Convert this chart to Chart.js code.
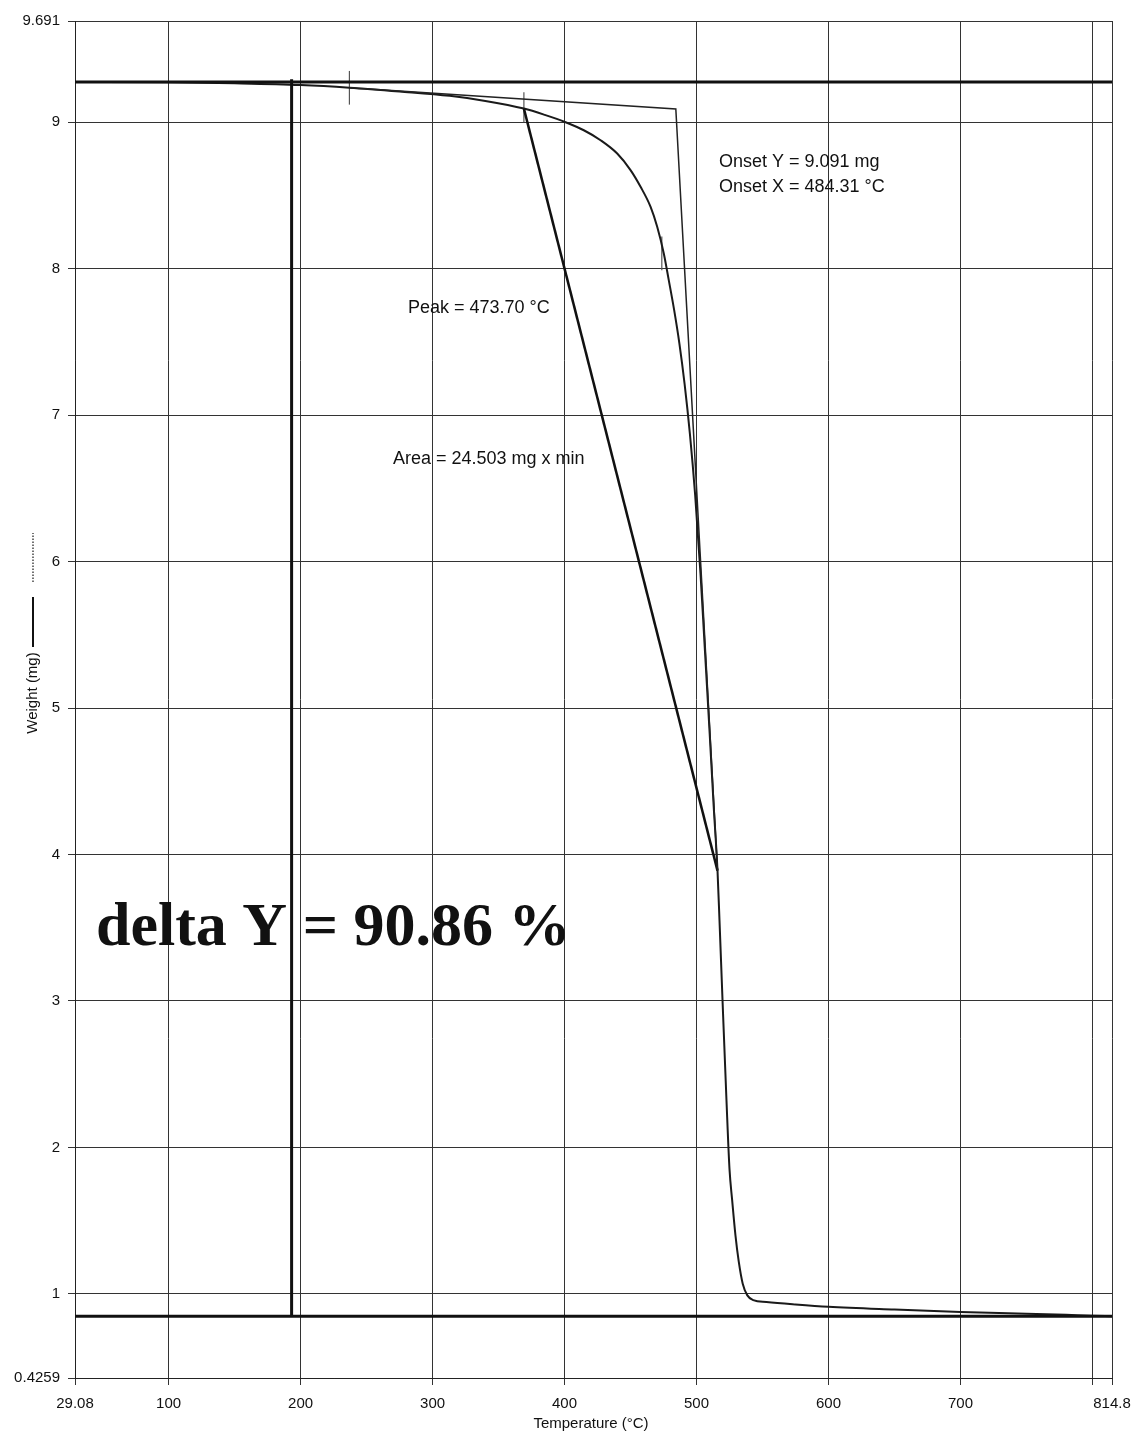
<!DOCTYPE html>
<html>
<head>
<meta charset="utf-8">
<script src="https://cdn.jsdelivr.net/npm/chart.js@4/dist/chart.umd.min.js"></script>
<style>
  html, body { margin: 0; padding: 0; background: #fff; }
  #wrap { width: 1133px; height: 1436px; }
</style>
</head>
<body>
<div id="wrap"><canvas id="c" width="1133" height="1436"></canvas></div>
<script>
// TGA weight-loss curve: temperature (°C) vs sample weight (mg)
const tempC = [29.08, 100, 150, 200, 237, 275, 313, 340, 369.2, 385, 400.8, 414.6, 427.3, 439.9,
  450, 457.6, 465.2, 470.2, 475.2, 479, 483, 487, 491, 495, 499, 503, 506, 510, 513, 515.9,
  517.4, 519.7, 522.7, 525, 527, 529.5, 532, 535, 538.5, 543, 553, 575, 600, 650, 700, 750,
  780, 800, 814.8];
const weightMg = [9.275, 9.273, 9.266, 9.254, 9.236, 9.21, 9.18, 9.145, 9.093, 9.05, 9.0, 8.945,
  8.877, 8.786, 8.673, 8.559, 8.422, 8.286, 8.104, 7.92, 7.72, 7.49, 7.21, 6.87, 6.45, 5.92,
  5.45, 4.82, 4.33, 3.89, 3.551, 3.005, 2.32, 1.85, 1.64, 1.40, 1.22, 1.07, 0.99, 0.958, 0.945,
  0.928, 0.912, 0.893, 0.877, 0.865, 0.857, 0.851, 0.848];

// Axis ticks
const xTicks = [29.08, 100, 200, 300, 400, 500, 600, 700, 800, 814.8];
const xTickLabels = ['29.08', '100', '200', '300', '400', '500', '600', '700', '', '814.8'];
const yTicks = [0.4259, 1, 2, 3, 4, 5, 6, 7, 8, 9, 9.691];
const yTickLabels = ['0.4259', '1', '2', '3', '4', '5', '6', '7', '8', '9', '9.691'];

// Analysis results
const deltaPct = 90.86;
const upperLevel = 9.275;
const lowerLevel = upperLevel * (1 - deltaPct / 100);
const stepTemp = 193.2;
const stepTop = 9.293;
const onsetX = 484.31;
const onsetY = 9.091;
const baselineStart = { x: 237, y: 9.236 };
const slopeEnd = { x: 515.9, y: 3.89 };
const peakTemp = 473.70;
const peakLineStart = { x: 369.2, y: 9.093 };
const areaValue = 24.503;

// Small vertical cursor marks on the curve
const markerTemps = [237, 369.2, peakTemp];
const markerLow = [9.12, 9.0, 7.99];
const markerHigh = [9.35, 9.205, 8.22];

const FONT = '"Liberation Sans", Arial, Helvetica, sans-serif';

const curvePts = tempC.map((t, i) => ({ x: t, y: weightMg[i] }));
const seg = (pts, color, width, extra) => Object.assign({
  data: pts, showLine: true, borderColor: color, borderWidth: width,
  pointRadius: 0, fill: false, tension: 0
}, extra || {});

const datasets = [
  seg([{ x: 29.08, y: upperLevel }, { x: 814.8, y: upperLevel }], '#111', 3),
  seg([{ x: 29.08, y: lowerLevel }, { x: 814.8, y: lowerLevel }], '#111', 3),
  seg([{ x: stepTemp, y: stepTop }, { x: stepTemp, y: lowerLevel }], '#111', 3),
  seg([baselineStart, { x: onsetX, y: onsetY }, slopeEnd], '#222', 1.5),
  seg([peakLineStart, slopeEnd], '#111', 2.5),
  seg(curvePts, '#1a1a1a', 2, { cubicInterpolationMode: 'monotone' })
];
markerTemps.forEach((t, i) => {
  datasets.push(seg([{ x: t, y: markerLow[i] }, { x: t, y: markerHigh[i] }], '#555', 1.2));
});

// Text annotations and the y-axis title with its line-style key
const notes = {
  id: 'notes',
  afterDraw(chart) {
    const ctx = chart.ctx;
    ctx.save();
    ctx.fillStyle = '#111';
    ctx.textBaseline = 'alphabetic';
    ctx.textAlign = 'left';
    ctx.font = '18px ' + FONT;
    ctx.fillText('Onset Y = ' + onsetY.toFixed(3) + ' mg', 719, 167);
    ctx.fillText('Onset X = ' + onsetX.toFixed(2) + ' °C', 719, 192);
    ctx.fillText('Peak = ' + peakTemp.toFixed(2) + ' °C', 408, 313);
    ctx.fillText('Area = ' + areaValue.toFixed(3) + ' mg x min', 393, 464);

    ctx.font = 'bold 62px "Liberation Serif", "Times New Roman", serif';
    ctx.fillText('delta Y = ' + deltaPct.toFixed(2) + ' %', 96, 945);

    // y-axis title, rotated
    ctx.translate(33, 693);
    ctx.rotate(-Math.PI / 2);
    ctx.font = '15px ' + FONT;
    ctx.textAlign = 'center';
    ctx.textBaseline = 'middle';
    ctx.fillText('Weight (mg)', 0, 0);
    ctx.strokeStyle = '#111';
    ctx.lineWidth = 2;
    ctx.beginPath();
    ctx.moveTo(46, 0); ctx.lineTo(96, 0);
    ctx.stroke();
    ctx.lineWidth = 1.5;
    ctx.setLineDash([1.5, 1.5]);
    ctx.strokeStyle = '#444';
    ctx.beginPath();
    ctx.moveTo(111, 0); ctx.lineTo(160, 0);
    ctx.stroke();
    ctx.restore();

    // x-axis title
    ctx.save();
    ctx.fillStyle = '#111';
    ctx.font = '15px ' + FONT;
    ctx.textAlign = 'center';
    ctx.textBaseline = 'middle';
    ctx.fillText('Temperature (°C)', 591, 1424);
    ctx.restore();
  }
};

new Chart(document.getElementById('c'), {
  type: 'scatter',
  data: { datasets },
  options: {
    responsive: false,
    animation: false,
    layout: { padding: { top: 21, right: 21, left: 0, bottom: 0 } },
    plugins: { legend: { display: false }, tooltip: { enabled: false } },
    scales: {
      x: {
        type: 'linear', min: 29.08, max: 814.8,
        afterBuildTicks: s => { s.ticks = xTicks.map(v => ({ value: v })); },
        afterFit: s => { s.height = 58; s.paddingRight = 21; s.paddingLeft = 0; },
        ticks: {
          autoSkip: false, maxRotation: 0, padding: 10, color: '#111',
          font: { size: 15, family: FONT },
          callback: v => { const i = xTicks.indexOf(v); return i >= 0 ? xTickLabels[i] : ''; }
        },
        grid: { color: '#333', lineWidth: 1, tickLength: 7 },
        border: { color: '#222', width: 1 }
      },
      y: {
        type: 'linear', min: 0.4259, max: 9.691,
        afterBuildTicks: s => { s.ticks = yTicks.map(v => ({ value: v })); },
        afterFit: s => { s.width = 75; },
        ticks: {
          autoSkip: false, padding: 8, color: '#111',
          font: { size: 15, family: FONT },
          callback: v => { const i = yTicks.indexOf(v); return i >= 0 ? yTickLabels[i] : ''; }
        },
        grid: { color: '#333', lineWidth: 1, tickLength: 7 },
        border: { color: '#222', width: 1 }
      }
    }
  },
  plugins: [notes]
});
</script>
</body>
</html>
